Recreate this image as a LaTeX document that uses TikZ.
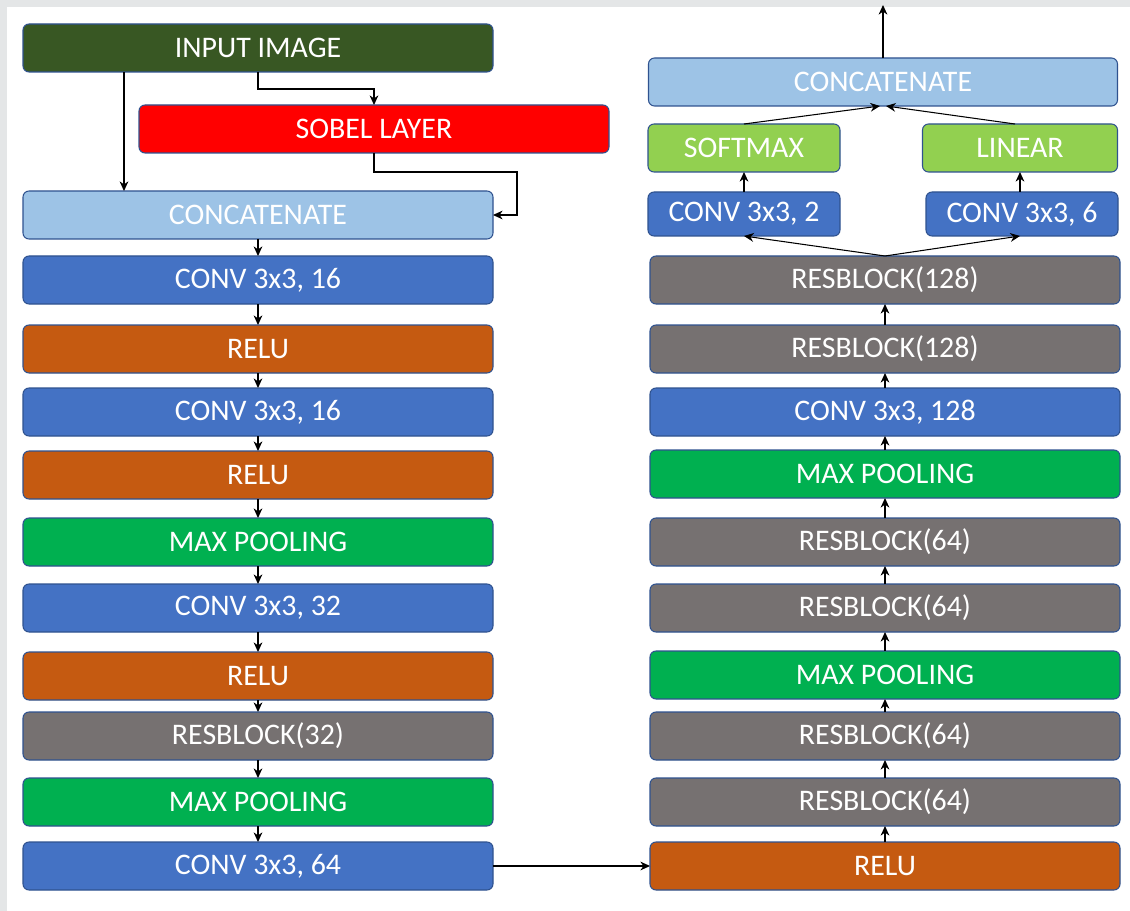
\documentclass[tikz,border=0pt]{standalone}
\usepackage{fontspec}
\setmainfont{Carlito}
\usetikzlibrary{arrows.meta}
\definecolor{inputgreen}{HTML}{385723}
\definecolor{sobelred}{HTML}{FF0000}
\definecolor{catblue}{HTML}{9DC3E6}
\definecolor{convblue}{HTML}{4472C4}
\definecolor{reluorange}{HTML}{C55A11}
\definecolor{poolgreen}{HTML}{00B050}
\definecolor{resgrey}{HTML}{767171}
\definecolor{headgreen}{HTML}{92D050}
\definecolor{edgeblue}{HTML}{2F528F}
\definecolor{framegrey}{HTML}{E4E6E7}
\begin{document}
\begin{tikzpicture}[inner sep=0pt,outer sep=0pt,
layer/.style={draw=edgeblue,line width=0.6pt,rounded corners=0.12cm,text=white,
  font=\fontsize{17}{20}\selectfont,minimum width=9.4cm,minimum height=0.96cm},
headbox/.style={layer,minimum width=3.84cm},
conn/.style={-{Stealth[length=5.5pt,width=5pt]},line width=0.6pt}]

\useasboundingbox (0,0) rectangle (22.6,-18.22);
\fill[white] (0,0) rectangle (22.6,-18.22);
\fill[framegrey] (0,0) rectangle (22.6,-0.14);
\fill[framegrey] (0,0) rectangle (0.14,-18.22);

% encoder (left column)
\draw (5.16,-0.96) node[layer,fill=inputgreen] (in) {INPUT IMAGE};
\draw (7.48,-2.58) node[layer,fill=sobelred] (sobel) {SOBEL LAYER};
\draw (5.16,-4.3) node[layer,fill=catblue] (cat1) {CONCATENATE};
\draw (5.16,-5.6) node[layer,fill=convblue] (conv16a) {CONV 3x3, 16};
\draw (5.16,-6.98) node[layer,fill=reluorange] (relu1) {RELU};
\draw (5.16,-8.24) node[layer,fill=convblue] (conv16b) {CONV 3x3, 16};
\draw (5.16,-9.5) node[layer,fill=reluorange] (relu2) {RELU};
\draw (5.16,-10.84) node[layer,fill=poolgreen] (pool1) {MAX POOLING};
\draw (5.16,-12.16) node[layer,fill=convblue] (conv32) {CONV 3x3, 32};
\draw (5.16,-13.52) node[layer,fill=reluorange] (relu3) {RELU};
\draw (5.16,-14.72) node[layer,fill=resgrey] (res32) {RESBLOCK(32)};
\draw (5.16,-16.04) node[layer,fill=poolgreen] (pool2) {MAX POOLING};
\draw (5.16,-17.32) node[layer,fill=convblue] (conv64) {CONV 3x3, 64};

% right column
\draw (17.7,-17.32) node[layer,fill=reluorange] (relu4) {RELU};
\draw (17.7,-16.04) node[layer,fill=resgrey] (res64a) {RESBLOCK(64)};
\draw (17.7,-14.72) node[layer,fill=resgrey] (res64b) {RESBLOCK(64)};
\draw (17.7,-13.5) node[layer,fill=poolgreen] (pool3) {MAX POOLING};
\draw (17.7,-12.16) node[layer,fill=resgrey] (res64c) {RESBLOCK(64)};
\draw (17.7,-10.84) node[layer,fill=resgrey] (res64d) {RESBLOCK(64)};
\draw (17.7,-9.48) node[layer,fill=poolgreen] (pool4) {MAX POOLING};
\draw (17.7,-8.24) node[layer,fill=convblue] (conv128) {CONV 3x3, 128};
\draw (17.7,-6.98) node[layer,fill=resgrey] (res128a) {RESBLOCK(128)};
\draw (17.7,-5.6) node[layer,fill=resgrey] (res128b) {RESBLOCK(128)};
\draw (14.88,-4.28) node[headbox,fill=convblue,minimum height=0.88cm] (conv2) {CONV 3x3, 2};
\draw (20.44,-4.28) node[headbox,fill=convblue,minimum height=0.88cm] (conv6) {CONV 3x3, 6};
\draw (14.88,-2.96) node[headbox,fill=headgreen] (soft) {SOFTMAX};
\draw (20.4,-2.96) node[headbox,fill=headgreen,minimum width=3.9cm] (lin) {LINEAR};
\draw (17.66,-1.64) node[layer,fill=catblue,minimum width=9.38cm] (cat2) {CONCATENATE};
\coordinate (out) at (17.66,-0.1);

% connectors
\draw[conn] ([xshift=-2.68cm]in.south) -- ([xshift=-2.68cm]cat1.north);
\draw[conn] (in.south) -- ++(0,-0.34) -| (sobel.north);
\draw[conn] (sobel.south) -- ++(0,-0.38) -- ++(2.86,0) |- (cat1.east);
\draw[conn] (cat1) -- (conv16a);
\draw[conn] (conv16a) -- (relu1);
\draw[conn] (relu1) -- (conv16b);
\draw[conn] (conv16b) -- (relu2);
\draw[conn] (relu2) -- (pool1);
\draw[conn] (pool1) -- (conv32);
\draw[conn] (conv32) -- (relu3);
\draw[conn] (relu3) -- (res32);
\draw[conn] (res32) -- (pool2);
\draw[conn] (pool2) -- (conv64);
\draw[conn] (conv64) -- (relu4);
\draw[conn] (relu4) -- (res64a);
\draw[conn] (res64a) -- (res64b);
\draw[conn] (res64b) -- (pool3);
\draw[conn] (pool3) -- (res64c);
\draw[conn] (res64c) -- (res64d);
\draw[conn] (res64d) -- (pool4);
\draw[conn] (pool4) -- (conv128);
\draw[conn] (conv128) -- (res128a);
\draw[conn] (res128a) -- (res128b);
\draw[conn] (res128b.north) -- (conv2.south);
\draw[conn] (res128b.north) -- ([xshift=-0.04cm]conv6.south);
\draw[conn] (conv2) -- (soft);
\draw[conn] ([xshift=-0.04cm]conv6.north) -- ([xshift=-0.04cm]conv6.north |- lin.south);
\draw[conn] (soft.north) -- ([xshift=-0.06cm]cat2.south);
\draw[conn] ([xshift=-0.1cm]lin.north) -- ([xshift=0.06cm]cat2.south);
\draw[conn] (cat2.north) -- (out);
\end{tikzpicture}
\end{document}
